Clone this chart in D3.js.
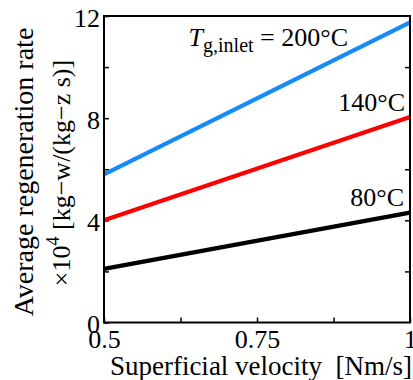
<!DOCTYPE html>
<html>
<head>
<meta charset="utf-8">
<script src="https://cdn.jsdelivr.net/npm/d3@7"></script>
<style>
  html, body { margin: 0; padding: 0; background: #fff; }
  svg text { font-family: "Liberation Serif", "Times New Roman", serif; fill: #000; white-space: pre; }
</style>
</head>
<body>
<svg id="chart" width="413" height="380"></svg>
<script>
// Superficial velocity endpoints [Nm/s]
const velocities = [0.5, 1.0];
// Average regeneration rate ×10^4 for each inlet gas temperature
const rate80 = [2.1, 4.3];
const rate140 = [4.0, 8.05];
const rate200 = [5.8, 11.75];
const seriesNames = ["80°C", "140°C", "200°C"];
const seriesColors = ["#000000", "#ff0000", "#1689fb"];
const xTickLabels = [0.5, 0.75, 1];
const yTickLabels = [0, 4, 8, 12];

const svg = d3.select("#chart");
const plotL = 104, plotR = 410, plotT = 16, plotB = 322.5;

const x = d3.scaleLinear().domain([0.5, 1]).range([plotL, plotR]);
const y = d3.scaleLinear().domain([0, 12]).range([plotB, plotT]);

const fmtX = v => (v === 1 ? "1" : String(v));

// Inward ticks on bottom and left (all minor steps), right mirrored
const xAxis = d3.axisBottom(x).tickValues([0.5, 0.625, 0.75, 0.875, 1])
  .tickSizeInner(-5).tickSizeOuter(0)
  .tickFormat(d => xTickLabels.includes(d) ? fmtX(d) : "");
const yAxis = d3.axisLeft(y).tickValues([0, 2, 4, 6, 8, 10, 12])
  .tickSizeInner(-5).tickSizeOuter(0)
  .tickFormat(d => yTickLabels.includes(d) ? d : "");
const yAxisR = d3.axisRight(y).tickValues([2, 4, 6, 8, 10])
  .tickSizeInner(-5).tickSizeOuter(0).tickFormat("");

const gx = svg.append("g").attr("transform", `translate(0,${plotB})`).call(xAxis);
gx.selectAll("text").attr("font-size", 26).attr("dy", 0).attr("y", 25);
const gy = svg.append("g").attr("transform", `translate(${plotL},0)`).call(yAxis);
gy.selectAll("text").attr("font-size", 26).attr("x", -4).attr("dy", "0.4em");
const gr = svg.append("g").attr("transform", `translate(${plotR},0)`).call(yAxisR);

[gx, gy, gr].forEach(g => {
  g.select(".domain").remove();
  g.selectAll("line").attr("stroke", "#000").attr("stroke-width", 1.5);
  g.selectAll("text").style("font-family", "'Liberation Serif', serif").attr("fill", "#000");
});

// Data lines
const line = d3.line().x((d, i) => x(velocities[i])).y(d => y(d));
const allSeries = [rate80, rate140, rate200];
svg.append("g").selectAll("path").data(allSeries).join("path")
  .attr("d", d => line(d))
  .attr("fill", "none")
  .attr("stroke", (d, i) => seriesColors[i])
  .attr("stroke-width", 4.2);

// Plot frame
svg.append("rect")
  .attr("x", plotL).attr("y", plotT)
  .attr("width", plotR - plotL).attr("height", plotB - plotT)
  .attr("fill", "none").attr("stroke", "#000").attr("stroke-width", 2);

// Series labels
const lbl200 = svg.append("text").attr("x", 348).attr("y", 46)
  .attr("text-anchor", "end").attr("font-size", 26);
lbl200.append("tspan").attr("font-style", "italic").text("T");
lbl200.append("tspan").attr("font-size", 20).attr("dy", 6).text("g,inlet");
lbl200.append("tspan").attr("dy", -6).text(" = " + seriesNames[2]);

svg.append("text").attr("x", 405).attr("y", 111)
  .attr("text-anchor", "end").attr("font-size", 26).text(seriesNames[1]);
svg.append("text").attr("x", 404).attr("y", 206)
  .attr("text-anchor", "end").attr("font-size", 26).text(seriesNames[0]);

// Axis titles
svg.append("text").attr("x", 261).attr("y", 375)
  .attr("text-anchor", "middle").attr("font-size", 27)
  .text("Superficial velocity  [Nm/s]");

const yt = svg.append("g").attr("transform", "translate(0,172) rotate(-90)");
yt.append("text").attr("x", 0).attr("y", 33)
  .attr("text-anchor", "middle").attr("font-size", 28)
  .text("Average regeneration rate");
const yt2 = yt.append("text").attr("x", -1).attr("y", 70)
  .attr("text-anchor", "middle").attr("font-size", 26);
yt2.append("tspan").text("×10");
yt2.append("tspan").attr("font-size", 18).attr("dy", -11).text("4");
yt2.append("tspan").attr("dy", 11).text(" [kg−w/(kg−z s)]");
</script>
</body>
</html>
